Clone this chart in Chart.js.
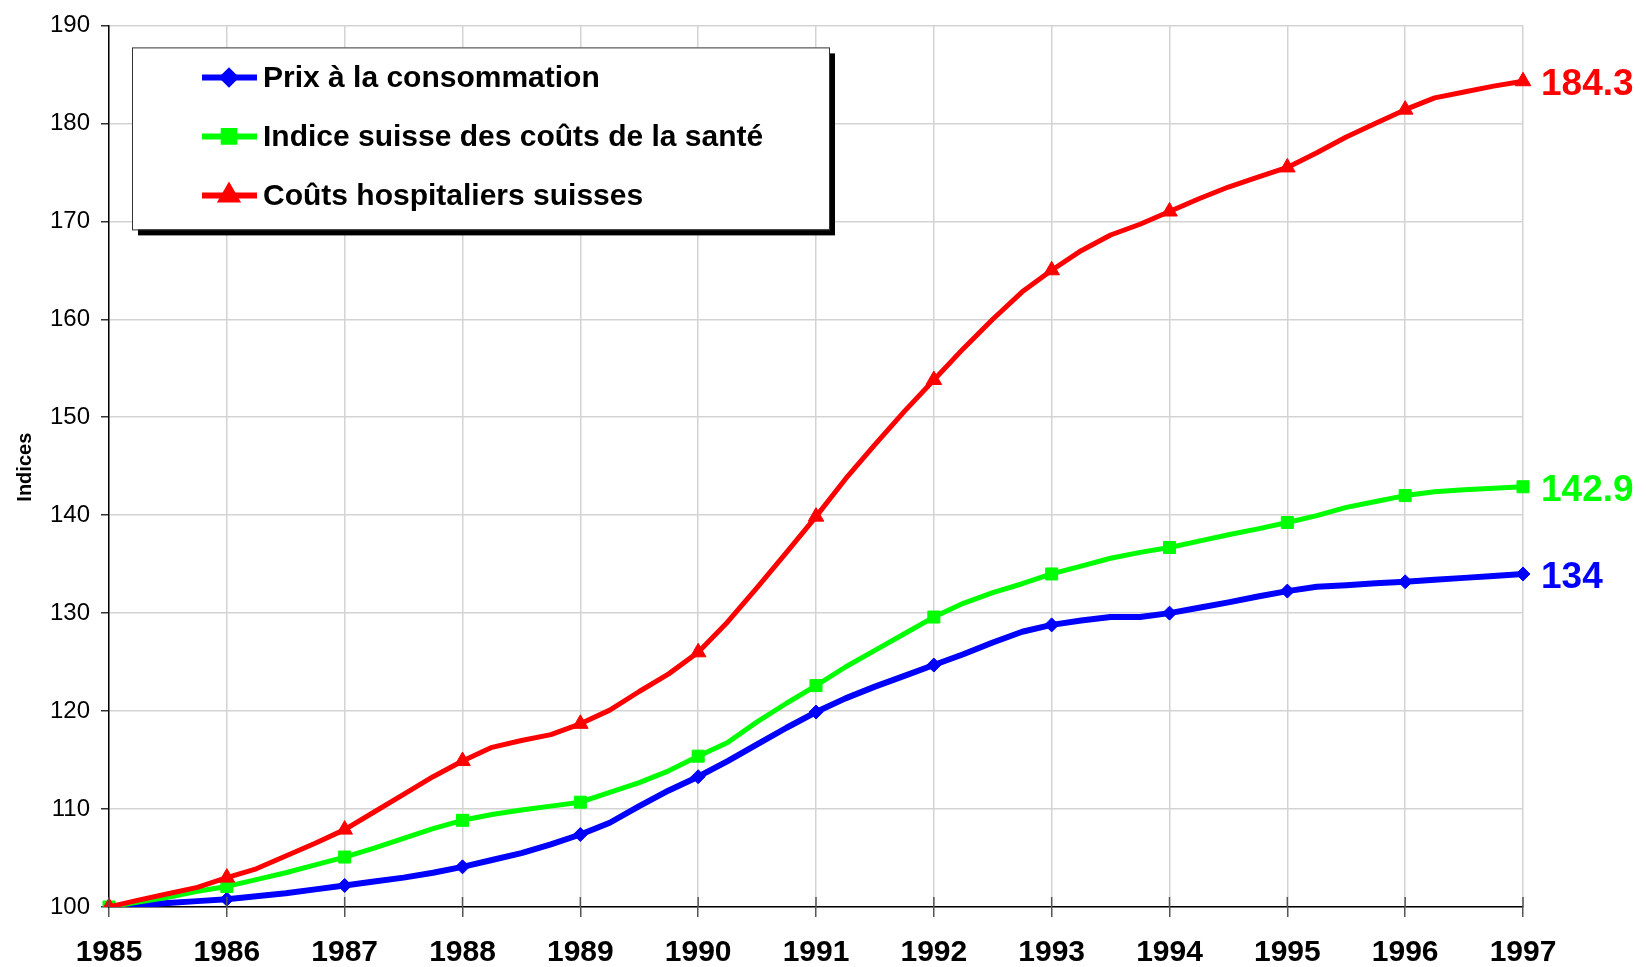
<!DOCTYPE html>
<html>
<head>
<meta charset="utf-8">
<style>
  html, body { margin: 0; padding: 0; background: #ffffff; }
  #wrap { width: 1646px; height: 967px; position: relative; }
  canvas { display: block; }
</style>
<script src="https://cdn.jsdelivr.net/npm/chart.js@4.4.0/dist/chart.umd.min.js"></script>
</head>
<body>
<div id="wrap"><canvas id="c" width="1646" height="967"></canvas></div>
<script>
// ---- Data (indices, base 1985 = 100), quarterly readings, markers on each year ----
const years = ['1985','1986','1987','1988','1989','1990','1991','1992','1993','1994','1995','1996','1997'];
const quarterTags = ['', ' T2', ' T3', ' T4'];

const prixConsommation = [
  100.0,100.2,100.4,100.6, 100.8,101.1,101.4,101.8, 102.2,102.6,103.0,103.5,
  104.1,104.8,105.5,106.4, 107.4,108.6,110.3,111.9, 113.3,114.9,116.6,118.3,
  119.9,121.3,122.5,123.6, 124.7,125.8,127.0,128.1, 128.8,129.25,129.6,129.6,
  130.0,130.55,131.1,131.7, 132.25,132.7,132.85,133.05, 133.2,133.4,133.6,133.8,
  134.0
];
const indiceSante = [
  100.0,100.5,101.0,101.6, 102.1,102.8,103.5,104.3, 105.1,106.0,107.0,108.0,
  108.85,109.45,109.9,110.3, 110.7,111.7,112.7,113.9, 115.4,116.8,118.9,120.8,
  122.6,124.5,126.2,127.9, 129.6,131.0,132.1,133.0, 134.0,134.8,135.6,136.2,
  136.7,137.35,138.0,138.6, 139.25,139.95,140.8,141.4, 142.0,142.4,142.6,142.75,
  142.9
];
const coutsHospitaliers = [
  100.0,100.7,101.35,102.0, 103.0,103.9,105.2,106.5, 107.9,109.7,111.5,113.3,
  114.9,116.3,117.0,117.6, 118.7,120.1,122.0,123.8, 126.0,129.1,132.6,136.2,
  139.85,143.7,147.2,150.6, 153.8,157.0,160.0,162.8, 165.0,167.0,168.6,169.7,
  171.0,172.3,173.5,174.5, 175.5,177.0,178.6,180.0, 181.4,182.6,183.2,183.8,
  184.3
];
const seriesNames = ['Prix à la consommation', 'Indice suisse des coûts de la santé', 'Coûts hospitaliers suisses'];
const endLabels = ['134', '142.9', '184.3'];
const yTicks = [100,110,120,130,140,150,160,170,180,190];

// category labels: each year + its quarters (last year only its first reading)
const categories = [];
years.forEach((y, i) => {
  if (i < years.length - 1) quarterTags.forEach(t => categories.push(y + t));
  else categories.push(y);
});

const FONT = '"Liberation Sans", Arial, "DejaVu Sans", sans-serif';
const colors = ['#0000FF', '#00FF00', '#FF0000'];
const styles = ['rectRot', 'rect', 'triangle'];
const radii = [7, 8.5, 9];
const widths = [6, 5, 5];
const seriesData = [prixConsommation, indiceSante, coutsHospitaliers];

const datasets = seriesData.map((d, i) => ({
  label: seriesNames[i],
  data: d,
  borderColor: colors[i],
  backgroundColor: colors[i],
  borderWidth: widths[i],
  tension: 0,
  fill: false,
  borderJoinStyle: 'round',
  borderCapStyle: 'round',
  pointStyle: styles[i],
  pointRadius: ctx => (ctx.dataIndex % 4 === 0 ? radii[i] : 0),
  pointHoverRadius: ctx => (ctx.dataIndex % 4 === 0 ? radii[i] : 0),
  pointBorderWidth: 1,
  pointBackgroundColor: colors[i],
  pointBorderColor: colors[i],
  order: 3 - i
}));

const decorPlugin = {
  id: 'decor',
  afterDraw(chart) {
    const ctx = chart.ctx;
    const area = chart.chartArea;
    const xs = chart.scales.x;

    // crossing tick marks on x axis (upper part)
    ctx.save();
    ctx.strokeStyle = '#555555';
    ctx.lineWidth = 1.5;
    for (let i = 0; i < categories.length; i += 4) {
      const px = xs.getPixelForTick(i);
      ctx.beginPath();
      ctx.moveTo(px, area.bottom - 10);
      ctx.lineTo(px, area.bottom);
      ctx.stroke();
    }
    ctx.restore();

    // y-axis title
    ctx.save();
    ctx.translate(25, (area.top + area.bottom) / 2 + 1);
    ctx.rotate(-Math.PI / 2);
    ctx.fillStyle = '#000';
    ctx.font = 'bold 20px ' + FONT;
    ctx.textAlign = 'center';
    ctx.textBaseline = 'middle';
    ctx.fillText('Indices', 0, 0);
    ctx.restore();

    // legend box with shadow
    const bx = area.left + 23, by = area.top + 22, bw = 697, bh = 182;
    ctx.save();
    ctx.fillStyle = '#000';
    ctx.fillRect(bx + 6, by + 6, bw, bh);
    ctx.fillStyle = '#fff';
    ctx.fillRect(bx, by, bw, bh);
    ctx.strokeStyle = '#333';
    ctx.lineWidth = 1;
    ctx.strokeRect(bx + 0.5, by + 0.5, bw, bh);
    const rowY = [by + 30, by + 89, by + 148];
    chart.data.datasets.forEach((ds, i) => {
      const y = rowY[i];
      ctx.strokeStyle = colors[i];
      ctx.lineWidth = 6;
      ctx.lineCap = 'butt';
      ctx.beginPath();
      ctx.moveTo(bx + 70, y);
      ctx.lineTo(bx + 125, y);
      ctx.stroke();
      Chart.helpers.drawPoint(ctx, {
        pointStyle: styles[i], rotation: 0, borderWidth: 1, radius: radii[i] - 1
      }, bx + 97, y);
      ctx.fillStyle = colors[i];
      ctx.fill();
      ctx.fillStyle = '#000';
      ctx.font = 'bold 30px ' + FONT;
      ctx.textAlign = 'left';
      ctx.textBaseline = 'middle';
      ctx.fillText(ds.label, bx + 131, y + 1);
    });
    ctx.restore();

    // end value labels
    ctx.save();
    ctx.font = 'bold 37px ' + FONT;
    ctx.textAlign = 'left';
    ctx.textBaseline = 'middle';
    chart.data.datasets.forEach((ds, i) => {
      const meta = chart.getDatasetMeta(i);
      const pt = meta.data[meta.data.length - 1];
      ctx.fillStyle = colors[i];
      ctx.fillText(endLabels[i], pt.x + 18, pt.y + 4);
    });
    ctx.restore();
  }
};

new Chart(document.getElementById('c'), {
  type: 'line',
  data: { labels: categories, datasets },
  options: {
    responsive: false,
    animation: false,
    devicePixelRatio: 1,
    layout: { padding: { left: 0, right: 123, top: 25, bottom: 0 } },
    plugins: { legend: { display: false }, tooltip: { enabled: false } },
    scales: {
      x: {
        type: 'category',
        offset: false,
        afterFit: s => { s.height = 60; },
        border: { display: true, color: '#000', width: 1.5 },
        grid: {
          color: c => (c.index % 4 === 0 ? '#d3d3d3' : 'rgba(0,0,0,0)'),
          tickColor: c => (c.index % 4 === 0 ? '#555555' : 'rgba(0,0,0,0)'),
          lineWidth: 1.5,
          tickLength: 10,
          drawOnChartArea: true
        },
        ticks: {
          autoSkip: false,
          maxRotation: 0,
          minRotation: 0,
          padding: 18,
          color: '#000',
          font: { family: FONT, size: 30, weight: 'bold' },
          callback: function (value, index) { return index % 4 === 0 ? this.getLabelForValue(value) : ''; }
        }
      },
      y: {
        min: yTicks[0],
        max: yTicks[yTicks.length - 1],
        afterFit: s => { s.width = 109; },
        afterBuildTicks: s => { s.ticks = yTicks.map(v => ({ value: v })); },
        border: { display: true, color: '#000', width: 1.5 },
        grid: { color: '#d3d3d3', lineWidth: 1.5, tickLength: 8, tickColor: '#333' },
        ticks: {
          padding: 11,
          color: '#000',
          font: { family: FONT, size: 24 }
        }
      }
    }
  },
  plugins: [decorPlugin]
});
</script>
</body>
</html>
